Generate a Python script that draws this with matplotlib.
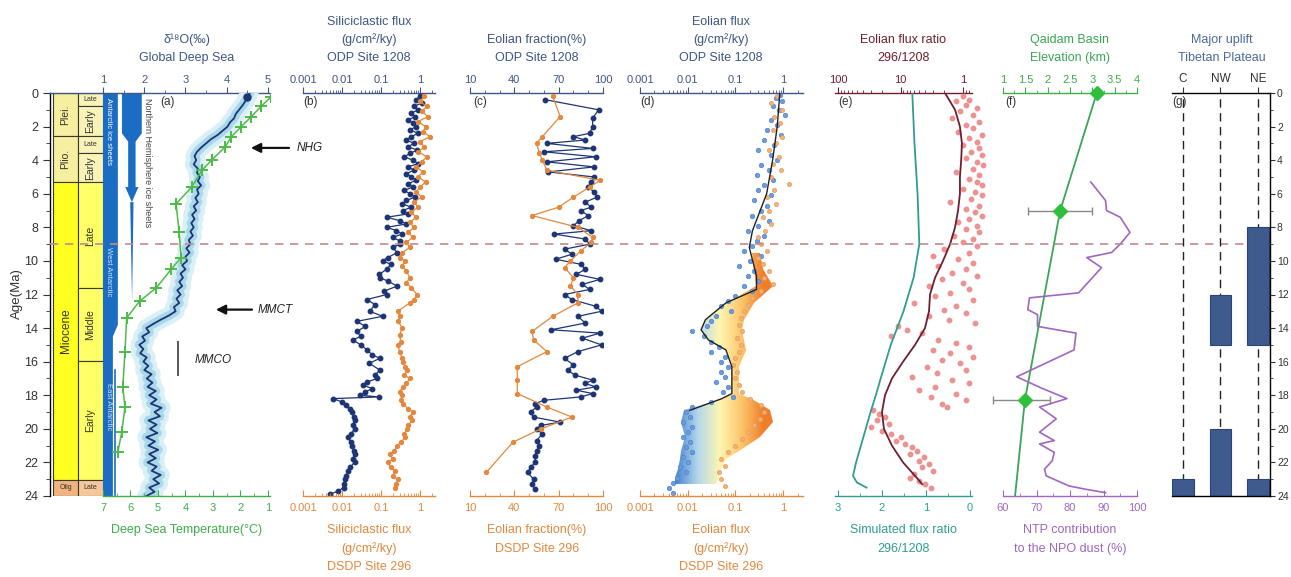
import numpy as np
import matplotlib
matplotlib.use("Agg")
import matplotlib.pyplot as plt
import matplotlib.transforms as mtransforms
from matplotlib.patches import Polygon, Rectangle
from matplotlib.lines import Line2D
from matplotlib.colors import LinearSegmentedColormap, Normalize
from matplotlib.ticker import MultipleLocator, NullFormatter, LogLocator

plt.rcParams['font.family'] = ['Liberation Sans', 'DejaVu Sans']
plt.rcParams['axes.linewidth'] = 1.0

# ---------------- colours ----------------
C_SLATE = '#3e5585'
C_GREEN = '#3fae49'
C_ORANGE = '#e3883d'
C_NAVY = '#1d3575'
C_MAROON = '#6e1f2f'
C_TEAL = '#2f9d91'
C_PURPLE = '#a066c0'
C_PINK = '#ec8a8a'
C_ICE = '#1a6dc2'

# ---------------- data ----------------
# geological time scale (Ma)
epoch_names = ['Plei.', 'Plio.', 'Miocene', 'Olig.']
epoch_top = [0, 2.58, 5.33, 23.03]
epoch_base = [2.58, 5.33, 23.03, 24]
epoch_cols = ['#f7efa0', '#f7efa0', '#ffff22', '#f2b47e']
sub_names = ['Late', 'Early', 'Late', 'Early', 'Late', 'Middle', 'Early', 'Late']
sub_top = [0, 0.78, 2.58, 3.6, 5.33, 11.63, 15.97, 23.03]
sub_base = [0.78, 2.58, 3.6, 5.33, 11.63, 15.97, 23.03, 24]
sub_cols = ['#faf3b8', '#faf3b8', '#faf3b8', '#faf3b8', '#ffff66', '#ffff66', '#ffff66', '#f6c79a']

# (a) global deep sea d18O (per mil), 0.25 Myr steps
d18o_age = np.arange(0, 24.01, 0.25)
d18o = [4.56, 4.50, 4.45, 4.38, 4.30, 4.22, 4.18, 4.08, 4.02, 3.90, 3.78, 3.62,
        3.50, 3.38, 3.28, 3.22, 3.26, 3.20, 3.30, 3.28, 3.35, 3.30, 3.38, 3.28,
        3.32, 3.24, 3.30, 3.20, 3.26, 3.16, 3.22, 3.14, 3.20, 3.12, 3.18, 3.08,
        3.12, 3.02, 3.10, 3.00, 3.04, 2.92, 3.00, 2.88, 2.94, 2.85, 2.92, 2.80,
        2.88, 2.78, 2.85, 2.72, 2.76, 2.60, 2.40, 2.22, 2.05, 2.12, 1.95, 2.02,
        1.88, 1.98, 1.90, 2.06, 1.98, 2.10, 2.00, 2.18, 2.06, 2.20, 2.08, 2.28,
        2.12, 2.30, 2.16, 2.42, 2.25, 2.38, 2.10, 2.30, 2.14, 2.32, 2.05, 2.26,
        2.10, 2.34, 2.12, 2.28, 2.08, 2.30, 2.18, 2.40, 2.22, 2.36, 2.12, 2.25,
        2.05]
# (a) deep sea temperature (degC)
temp_age = [0.25, 0.8, 1.4, 2.0, 2.6, 3.2, 4.0, 4.6, 5.6, 6.6, 8.3, 9.8, 10.5,
            11.6, 12.4, 13.4, 15.4, 17.5, 18.7, 20.2, 21.4]
temp_val = [0.9, 1.25, 1.6, 1.97, 2.33, 2.55, 3.05, 3.4, 3.77, 4.34, 4.23, 4.16,
            4.52, 5.06, 5.67, 6.14, 6.2, 6.28, 6.2, 6.32, 6.46]

# (b) siliciclastic flux (g/cm2/ky)
sil1208_age = [0.2, 0.4, 0.6, 0.8, 1.0, 1.2, 1.4, 1.6, 1.8, 2.0, 2.2, 2.4, 2.6, 2.8,
               3.0, 3.2, 3.4, 3.6, 3.8, 4.0, 4.2, 4.4, 4.6, 4.8, 5.0, 5.2, 5.4, 5.6,
               5.8, 6.0, 6.2, 6.4, 6.6, 6.8, 7.0, 7.2, 7.4, 7.6, 7.8, 8.0, 8.2, 8.4,
               8.6, 8.8, 9.0, 9.2, 9.5, 9.8, 10.0, 10.2, 10.5, 10.8, 11.0, 11.2,
               11.5, 11.8, 12.0, 12.3, 12.6, 13.0, 13.3, 13.6, 13.9, 14.2, 14.5,
               14.7, 15.0, 15.3, 15.6, 15.8, 16.1, 16.5, 16.8, 17.0, 17.2, 17.4,
               17.6, 17.8, 18.0, 18.1, 18.2, 18.4, 18.6, 18.8, 19.0, 19.3, 19.5,
               19.8, 20.0, 20.3, 20.5, 20.8, 21.0, 21.3, 21.5, 21.8, 22.0, 22.3,
               22.5, 22.8, 23.0, 23.3, 23.5, 23.7, 23.9]
sil1208 = [1.0, 0.8, 1.1, 0.7, 0.9, 0.6, 0.75, 0.5, 0.65, 0.8, 0.55, 0.9, 0.6, 0.45,
           0.7, 0.5, 0.85, 0.55, 0.4, 0.65, 0.9, 0.5, 0.7, 0.45, 0.6, 0.8, 0.5, 0.65,
           0.4, 0.55, 0.75, 0.45, 0.35, 0.6, 0.36, 0.5, 0.14, 0.3, 0.45, 0.14, 0.25,
           0.35, 0.2, 0.3, 0.31, 0.2, 0.26, 0.15, 0.11, 0.18, 0.14, 0.09, 0.094, 0.15,
           0.26, 0.12, 0.14, 0.044, 0.07, 0.052, 0.11, 0.024, 0.04, 0.024, 0.03,
           0.019, 0.03, 0.044, 0.06, 0.094, 0.05, 0.094, 0.07, 0.08, 0.045, 0.035,
           0.06, 0.04, 0.029, 0.09, 0.0059, 0.01, 0.013, 0.016, 0.018, 0.02, 0.021,
           0.019, 0.021, 0.017, 0.014, 0.017, 0.018, 0.02, 0.021, 0.019, 0.021,
           0.016, 0.014, 0.013, 0.012, 0.011, 0.011, 0.008, 0.0049]
sil296_age = [0.2, 0.5, 0.8, 1.1, 1.4, 1.7, 2.0, 2.3, 2.6, 2.9, 3.2, 3.5, 3.8, 4.1,
              4.4, 4.7, 5.0, 5.3, 5.6, 5.9, 6.2, 6.5, 6.8, 7.1, 7.4, 7.7, 8.0, 8.3,
              8.6, 8.9, 9.2, 9.5, 9.8, 10.0, 10.3, 10.6, 11.0, 11.3, 11.6, 12.0,
              12.3, 12.5, 13.0, 13.3, 13.6, 14.0, 14.4, 14.8, 15.0, 15.4, 15.8,
              16.0, 16.3, 16.5, 16.8, 17.0, 17.3, 17.5, 17.8, 18.0, 18.3, 18.5,
              18.8, 19.0, 19.3, 19.5, 19.8, 20.0, 20.3, 20.5, 20.8, 21.0, 21.3,
              21.5, 21.8, 22.0, 22.3, 22.5, 22.8, 23.0, 23.3, 23.5]
sil296 = [1.3, 1.0, 1.5, 1.1, 1.6, 0.9, 1.4, 1.2, 1.8, 1.0, 1.3, 0.9, 1.5, 1.1, 0.8,
          1.2, 0.9, 1.4, 1.0, 0.8, 1.1, 0.7, 0.9, 0.6, 0.8, 0.55, 0.7, 0.5, 0.65,
          0.45, 0.55, 0.35, 0.3, 0.41, 0.35, 0.45, 0.55, 0.45, 0.6, 0.84, 0.7, 0.55,
          0.27, 0.3, 0.28, 0.35, 0.3, 0.32, 0.27, 0.3, 0.35, 0.37, 0.42, 0.47, 0.4,
          0.55, 0.45, 0.37, 0.3, 0.35, 0.33, 0.37, 0.5, 0.66, 0.55, 0.62, 0.5, 0.47,
          0.4, 0.41, 0.33, 0.26, 0.22, 0.17, 0.2, 0.15, 0.18, 0.23, 0.2, 0.27, 0.25,
          0.23]

# (c) eolian fraction (%)
ef1208_age = [0.4, 1.0, 1.5, 2.0, 2.4, 2.6, 2.8, 3.0, 3.3, 3.5, 3.8, 4.1, 4.4, 4.7,
              5.0, 5.3, 5.6, 5.9, 6.2, 6.5, 6.8, 7.0, 7.3, 7.6, 7.9, 8.2, 8.4, 8.7,
              9.0, 9.3, 9.6, 9.9, 10.2, 10.5, 10.8, 11.1, 11.4, 11.7, 12.0, 12.3,
              12.7, 13.0, 13.3, 13.7, 14.1, 14.3, 14.6, 15.0, 15.4, 15.8, 16.2,
              16.5, 16.8, 17.1, 17.3, 17.5, 17.7, 17.9, 18.1, 18.3, 18.5, 18.7,
              19.0, 19.3, 19.6, 19.8, 20.0, 20.3, 20.7, 21.0, 21.3, 21.6, 22.0,
              22.3, 22.6, 23.0, 23.3, 23.6]
ef1208 = [61, 97, 93, 93, 91, 80, 88, 62, 93, 60, 95, 62, 94, 63, 94, 92, 90, 94,
          96, 88, 92, 85, 90, 84, 80, 92, 67, 88, 91, 74, 79, 68, 85, 88, 82, 98,
          86, 91, 74, 79, 95, 99, 83, 88, 65, 98, 86, 99, 83, 74, 80, 76, 81, 93,
          88, 95, 82, 93, 85, 60, 54, 55, 51, 53, 71, 58, 55, 59, 55, 57, 55, 54,
          54, 51, 49, 53, 52, 54]
ef296_age = [0.2, 1.4, 2.6, 3.0, 3.6, 4.0, 4.6, 5.2, 5.6, 6.2, 6.8, 7.3, 8.0, 8.6,
             8.9, 9.4, 10.0, 10.4, 11.0, 11.5, 12.0, 12.5, 13.3, 14.2, 14.7, 15.4,
             16.3, 17.1, 17.9, 18.7, 19.3, 20.0, 20.8, 22.6]
ef296 = [66, 71, 59, 55, 57, 59, 62, 98, 91, 80, 70, 52, 83, 93, 92, 85, 78, 74,
         80, 78, 83, 83, 66, 52, 53, 62, 42, 42, 42, 62, 79, 58, 39, 21]

# (d) eolian flux (g/cm2/ky)
eo1208_age = [0.1, 0.3, 0.5, 0.8, 1.0, 1.3, 1.6, 1.9, 2.2, 2.5, 2.8, 3.1, 3.4, 3.7,
              4.0, 4.3, 4.6, 4.9, 5.2, 5.5, 5.8, 6.1, 6.4, 6.7, 7.0, 7.3, 7.6, 7.9,
              8.2, 8.5, 8.8, 9.1, 9.4, 9.7, 10.0, 10.3, 10.6, 10.9, 11.2, 11.5,
              11.8, 12.1, 12.4, 12.7, 13.0, 13.3, 13.6, 13.9, 14.2, 14.5, 14.8,
              15.1, 15.4, 15.7, 16.0, 16.3, 16.6, 16.9, 17.2, 17.5, 17.8, 18.1,
              18.4, 18.7, 19.0, 19.3, 19.6, 19.9, 20.2, 20.5, 20.8, 21.1, 21.4,
              21.7, 22.0, 22.3, 22.6, 22.9, 23.2, 23.5, 23.8]
eo1208 = [0.85, 0.70, 0.95, 0.60, 0.80, 1.10, 0.55, 0.75, 0.45, 0.90, 0.40, 0.65,
          0.30, 0.55, 0.75, 0.35, 0.50, 0.28, 0.60, 0.40, 0.30, 0.55, 0.25, 0.45,
          0.35, 0.22, 0.50, 0.30, 0.18, 0.40, 0.28, 0.22, 0.15, 0.35, 0.20, 0.12,
          0.25, 0.18, 0.30, 0.15, 0.22, 0.10, 0.07, 0.05, 0.08, 0.04, 0.03, 0.025,
          0.012, 0.022, 0.03, 0.045, 0.03, 0.06, 0.05, 0.07, 0.05, 0.06, 0.04, 0.07,
          0.055, 0.09, 0.03, 0.012, 0.009, 0.011, 0.008, 0.012, 0.010, 0.008, 0.011,
          0.009, 0.012, 0.008, 0.010, 0.007, 0.009, 0.006, 0.005, 0.004, 0.005]
eo296_age = [0.2, 0.6, 1.0, 1.4, 1.8, 2.2, 2.6, 3.0, 3.4, 3.8, 4.2, 4.6, 5.0, 5.4,
             5.8, 6.2, 6.6, 7.0, 7.4, 7.8, 8.2, 8.6, 9.0, 9.4, 9.8, 10.2, 10.6,
             11.0, 11.4, 11.8, 12.2, 12.6, 13.0, 13.4, 13.8, 14.2, 14.6, 15.0,
             15.4, 15.8, 16.2, 16.6, 17.0, 17.4, 17.8, 18.2, 18.6, 19.0, 19.4,
             19.8, 20.2, 20.6, 21.0, 21.4, 21.8, 22.2, 22.6, 23.0, 23.4]
eo296 = [0.75, 0.55, 0.95, 0.65, 0.85, 0.60, 0.95, 0.70, 0.50, 0.80, 0.60, 0.90,
         0.55, 1.3, 0.65, 0.45, 0.70, 0.50, 0.38, 0.55, 0.42, 0.30, 0.35, 0.45, 0.30,
         0.38, 0.50, 0.40, 0.60, 0.35, 0.22, 0.18, 0.15, 0.13, 0.12, 0.14, 0.11,
         0.13, 0.12, 0.10, 0.09, 0.11, 0.10, 0.12, 0.14, 0.20, 0.35, 0.40, 0.32,
         0.25, 0.18, 0.14, 0.10, 0.07, 0.05, 0.06, 0.045, 0.05, 0.06]
# smoothed ODP 1208 eolian flux
eo_smooth_age = [0, 2, 4, 6, 8.2, 9.2, 10.9, 11.7, 12.5, 13.5, 14.1, 14.7, 15.3,
                 16.3, 17.9, 18.2, 18.9]
eo_smooth = [0.85, 0.75, 0.6, 0.45, 0.227, 0.195, 0.276, 0.276, 0.063, 0.0235,
             0.019, 0.027, 0.063, 0.084, 0.084, 0.052, 0.011]
# envelope between the two sites (gradient fill)
env_age = [9.5, 10.5, 11.5, 12.5, 13.5, 14.1, 14.7, 15.3, 16.3, 17.2, 17.9, 18.2,
           18.9, 19.6, 20.5, 21.3, 21.8, 22.4, 22.9, 23.3]
env_left = [0.22, 0.25, 0.27, 0.063, 0.0235, 0.019, 0.027, 0.063, 0.084, 0.084,
            0.084, 0.052, 0.0085, 0.0072, 0.0088, 0.0072, 0.0068, 0.0062, 0.0055,
            0.0055]
env_right = [0.33, 0.38, 0.60, 0.25, 0.153, 0.139, 0.153, 0.169, 0.12, 0.12, 0.12,
             0.227, 0.52, 0.61, 0.32, 0.12, 0.063, 0.049, 0.0445, 0.040]

# (e) eolian flux ratio 296/1208
ratio_age = [0.2, 0.4, 0.5, 0.7, 0.9, 1.1, 1.3, 1.5, 1.7, 1.9, 2.1, 2.3, 2.5, 2.7,
             2.9, 3.1, 3.3, 3.5, 3.7, 3.9, 4.1, 4.3, 4.5, 4.7, 4.9, 5.1, 5.3, 5.5,
             5.7, 5.9, 6.1, 6.3, 6.5, 6.7, 6.9, 7.1, 7.3, 7.5, 7.7, 7.9, 8.1, 8.3,
             8.5, 8.7, 8.9, 9.1, 9.3, 9.5, 9.7, 9.9, 10.1, 10.3, 10.5, 10.7, 10.9,
             11.1, 11.3, 11.5, 11.7, 11.9, 12.1, 12.3, 12.5, 12.7, 12.9, 13.1,
             13.3, 13.5, 13.7, 13.9, 14.1, 14.3, 14.5, 14.7, 14.9, 15.1, 15.3,
             15.5, 15.7, 15.9, 16.1, 16.3, 16.5, 16.7, 16.9, 17.1, 17.3, 17.5,
             17.7, 17.9, 18.1, 18.3, 18.5, 18.7, 18.9, 19.1, 19.3, 19.5, 19.7,
             19.9, 20.1, 20.3, 20.5, 20.7, 20.9, 21.1, 21.3, 21.5, 21.7, 21.9,
             22.1, 22.3, 22.5, 22.7, 22.9, 23.1, 23.3, 23.5]
ratio = [1.0, 0.8, 1.3, 0.9, 0.6, 1.1, 0.7, 1.5, 0.55, 0.9, 0.7, 1.2, 0.5, 0.8, 0.6,
         1.0, 0.55, 0.75, 0.5, 0.9, 0.6, 0.48, 0.7, 1.3, 0.55, 0.8, 0.6, 0.5, 1.0,
         0.65, 0.5, 0.75, 1.6, 0.55, 0.9, 0.65, 0.5, 0.8, 1.2, 0.6, 0.9, 0.55, 1.4,
         0.7, 1.0, 0.6, 2.0, 0.8, 3.0, 1.2, 0.7, 2.5, 0.9, 1.5, 0.6, 2.2, 1.0, 3.5,
         0.8, 1.6, 2.8, 0.7, 6.0, 1.3, 2.0, 0.9, 3.5, 1.7, 0.65, 11.0, 8.0, 4.5,
         14.0, 2.5, 1.3, 0.8, 3.0, 1.6, 0.7, 2.2, 1.1, 3.8, 0.9, 2.6, 6.5, 1.5, 0.8,
         2.8, 5.0, 1.3, 3.2, 0.9, 2.2, 1.8, 28, 22, 18, 24, 15, 30, 20, 14, 10, 12,
         8.5, 6.5, 5.5, 7.0, 4.2, 5.0, 3.5, 4.5, 3.0, 6.0, 7.0, 5.0, 4.0, 3.2]
ratio_smooth_age = [0, 1, 2, 3, 4, 5, 6, 7, 8, 9, 10, 11, 12, 13, 14, 15, 16, 17, 18,
                    19, 20, 21, 22, 23, 23.3]
ratio_smooth = [1.94, 1.34, 1.12, 1.04, 1.07, 1.12, 1.12, 1.2, 1.34, 1.61, 2.09, 2.8,
                3.37, 3.5, 4.06, 5.86, 9.1, 13.7, 17.7, 19.8, 18.4, 13.7, 9.1, 5.25,
                4.5]
sim_age = [0, 3, 6, 9, 11, 13, 15, 17, 18, 19, 20, 21, 22, 22.8, 23.2, 23.5]
sim_ratio = [1.31, 1.26, 1.19, 1.15, 1.28, 1.51, 1.80, 2.03, 2.14, 2.26, 2.37, 2.48,
             2.59, 2.66, 2.57, 2.35]

# (f) Qaidam Basin elevation (km) and NTP contribution (%)
qb_age = [0, 7.0, 18.3, 24]
qb_elev = [3.1, 2.28, 1.49, 1.27]
qb_pt_age = [0, 7.0, 18.3]
qb_pt_elev = [3.1, 2.28, 1.49]
qb_err_lo = [0, 0.72, 0.71]
qb_err_hi = [0, 0.71, 0.56]
ntp_age = [5.3, 6.4, 7.0, 7.4, 8.3, 9.0, 9.5, 9.8, 10.4, 11.7, 11.9, 12.2, 12.9,
           13.2, 13.9, 14.3, 15.3, 16.9, 17.6, 18.2, 18.7, 19.4, 20.2, 20.7, 20.9,
           21.4, 21.9, 22.4, 22.8, 23.4, 23.6, 23.8]
ntp = [86.2, 90.6, 90.9, 95.0, 97.9, 95.0, 92.4, 85.0, 89.4, 83.5, 82.6, 67.9, 67.4,
       70.3, 70.3, 81.8, 81.2, 64.1, 71.8, 79.1, 70.9, 75.9, 70.9, 75.3, 70.9, 75.3,
       74.7, 72.4, 72.9, 79.7, 84.7, 90.6]

# (g) major uplift of the Tibetan Plateau
regions = ['C', 'NW', 'NE']
uplift_region = [0, 1, 1, 2, 2]
uplift_top = [23, 20, 12, 23, 8]
uplift_base = [24, 24, 15, 24, 15]

# ---------------- figure ----------------
W, H = 1291, 577
fig = plt.figure(figsize=(W / 100, H / 100), dpi=100)
Y_TOP, Y_BOT = 93, 496


def box(x0, x1):
    return [x0 / W, 1 - Y_BOT / H, (x1 - x0) / W, (Y_BOT - Y_TOP) / H]


def ftext(x, y, s, color, size=9, **kw):
    kw.setdefault('ha', 'center')
    kw.setdefault('va', 'center')
    fig.text(x / W, 1 - y / H, s, color=color, fontsize=size, **kw)


def panel(x0, x1, ctop, cbot):
    at = fig.add_axes(box(x0, x1))
    ab = fig.add_axes(box(x0, x1))
    for a in (at, ab):
        a.patch.set_visible(False)
        a.set_ylim(24, 0)
        a.spines['left'].set_visible(False)
        a.spines['right'].set_visible(False)
        a.set_yticks([])
    at.spines['bottom'].set_visible(False)
    ab.spines['top'].set_visible(False)
    at.xaxis.set_ticks_position('top')
    ab.xaxis.set_ticks_position('bottom')
    at.spines['top'].set_color(ctop)
    ab.spines['bottom'].set_color(cbot)
    at.tick_params(axis='x', which='both', colors=ctop, direction='out',
                   labelsize=8, pad=2)
    at.tick_params(axis='x', which='major', length=4)
    at.tick_params(axis='x', which='minor', length=2.5)
    ab.tick_params(axis='x', which='both', colors=cbot, direction='in',
                   labelsize=8, pad=5)
    ab.tick_params(axis='x', which='major', length=4)
    ab.tick_params(axis='x', which='minor', length=2.5)
    return at, ab


def logticks(a, ticks, labels):
    a.set_xscale('log')
    a.set_xticks(ticks, labels=labels)
    a.xaxis.set_minor_locator(LogLocator(base=10, subs=np.arange(2, 10)))
    a.xaxis.set_minor_formatter(NullFormatter())


# ---- stratigraphic column + age axis ----
ax_s = fig.add_axes(box(50, 103))
ax_s.set_xlim(0, 53)
ax_s.set_ylim(24, 0)
ax_s.patch.set_visible(False)
ax_s.spines['right'].set_visible(False)
ax_s.spines['bottom'].set_visible(False)
ax_s.spines['top'].set_color(C_SLATE)
ax_s.set_xticks([])
ax_s.yaxis.set_major_locator(MultipleLocator(2))
ax_s.yaxis.set_minor_locator(MultipleLocator(1))
ax_s.tick_params(axis='y', which='major', length=5, labelsize=9, colors='#333')
ax_s.tick_params(axis='y', which='minor', length=3, colors='#333')
for name, t, b, c in zip(epoch_names, epoch_top, epoch_base, epoch_cols):
    ax_s.add_patch(Rectangle((3, t), 25, b - t, fc=c, ec='#3a3a2a', lw=0.8))
    if b - t > 1.5:
        ax_s.text(15.5, (t + b) / 2, name, rotation=90, ha='center', va='center',
                  fontsize=8.5 if name == 'Miocene' else 7.5, color='#333')
    else:
        ax_s.text(15.5, (t + b) / 2, name[:-1], ha='center', va='center',
                  fontsize=5, color='#333')
for name, t, b, c in zip(sub_names, sub_top, sub_base, sub_cols):
    ax_s.add_patch(Rectangle((28, t), 25, b - t, fc=c, ec='#3a3a2a', lw=0.8))
    if b - t > 1.5:
        ax_s.text(40.5, (t + b) / 2, name, rotation=90, ha='center', va='center',
                  fontsize=7.5, color='#333')
    else:
        ax_s.text(40.5, (t + b) / 2, name, ha='center', va='center',
                  fontsize=5, color='#333')
ftext(17, 294, 'Age(Ma)', '#333', size=9.5, rotation=90)

# ---- (a) d18O / temperature ----
at_a, ab_a = panel(103, 270, C_SLATE, C_GREEN)
at_a.set_xlim(1.0, 5.05)
at_a.set_xticks([1, 2, 3, 4, 5])
at_a.xaxis.set_minor_locator(MultipleLocator(0.5))
ab_a.set_xlim(7, 0.925)
ab_a.set_xticks([7, 6, 5, 4, 3, 2, 1])
ab_a.xaxis.set_minor_locator(MultipleLocator(0.5))

# ice sheet bars
at_a.add_patch(Polygon(list(zip([1.0, 1.36, 1.36, 1.24, 1.24, 1.0],
                                [0, 0, 13.8, 14.5, 24, 24])), closed=True,
                       fc=C_ICE, ec='none', zorder=2))
at_a.plot([1.30, 1.30], [16.5, 24], color=C_ICE, lw=1.2, zorder=2)
at_a.add_patch(Polygon(list(zip([1.46, 1.94, 1.94, 1.79, 1.79, 1.86, 1.70, 1.54, 1.61, 1.61, 1.46],
                                [0, 0, 2.4, 2.9, 5.6, 5.6, 6.5, 5.6, 5.6, 2.9, 2.4])),
                       closed=True, fc=C_ICE, ec='none', zorder=2))
at_a.add_patch(Polygon([(1.66, 6.5), (1.74, 6.5), (1.705, 12.4)], closed=True,
                       fc=C_ICE, ec='none', zorder=2))
at_a.text(1.13, 0.3, 'Antarctic ice sheets', rotation=-90, ha='center', va='top',
          fontsize=5.5, color='white', zorder=3)
at_a.text(1.13, 9.2, 'West Antarctic', rotation=-90, ha='center', va='top',
          fontsize=5.5, color='#cfe3f7', zorder=3)
at_a.text(1.13, 17.3, 'East Antarctic', rotation=-90, ha='center', va='top',
          fontsize=5.5, color='#cfe3f7', zorder=3)
at_a.text(2.08, 0.3, 'Northern Hemisphere ice sheets', rotation=-90, ha='center',
          va='top', fontsize=6.5, color='#444', zorder=3)

# d18O band + curve
at_a.plot(d18o, d18o_age, color='#dbeff6', lw=13, solid_capstyle='round', zorder=3)
at_a.plot(d18o, d18o_age, color='#a9d8ea', lw=6.5, solid_capstyle='round', zorder=3)
at_a.plot(d18o, d18o_age, color=C_NAVY, lw=1.3, zorder=4)
at_a.plot([d18o[1]], [d18o_age[1]], 'o', color=C_NAVY, ms=5, zorder=4)
# temperature
ab_a.plot(temp_val, temp_age, '-+', color='#4cbb48', lw=1.1, ms=8, mew=1.4, zorder=5)

# annotations
at_a.annotate('', xy=(4.52, 3.27), xytext=(5.58, 3.27), annotation_clip=False,
              arrowprops=dict(arrowstyle='-|>', color='#111', lw=1.6,
                              mutation_scale=14))
at_a.text(5.70, 3.27, 'NHG', fontsize=8.5, style='italic', va='center', ha='left',
          color='#222', clip_on=False)
at_a.annotate('', xy=(3.67, 12.9), xytext=(4.68, 12.9), annotation_clip=False,
              arrowprops=dict(arrowstyle='-|>', color='#111', lw=1.6,
                              mutation_scale=14))
at_a.text(4.76, 12.9, 'MMCT', fontsize=8.5, style='italic', va='center', ha='left',
          color='#222', clip_on=False)
at_a.plot([2.82, 2.82], [14.8, 16.8], color='#555', lw=1.4)
at_a.text(3.23, 15.9, 'MMCO', fontsize=8.5, style='italic', va='center', ha='left',
          color='#222')

# ---- (b) siliciclastic flux ----
at_b, ab_b = panel(303, 435, C_SLATE, C_ORANGE)
for a in (at_b, ab_b):
    logticks(a, [0.001, 0.01, 0.1, 1], ['0.001', '0.01', '0.1', '1'])
    a.set_xlim(0.001, 2.43)
at_b.plot(sil1208, sil1208_age, '-o', color=C_NAVY, lw=0.9, ms=3.2, zorder=3)
at_b.plot(sil296, sil296_age, '-o', color=C_ORANGE, lw=0.9, ms=2.8, zorder=4)

# ---- (c) eolian fraction ----
at_c, ab_c = panel(470, 603, C_SLATE, C_ORANGE)
for a in (at_c, ab_c):
    a.set_xlim(10, 100)
    a.set_xticks([10, 40, 70, 100])
    a.xaxis.set_minor_locator(MultipleLocator(10))
at_c.plot(ef1208, ef1208_age, '-o', color=C_NAVY, lw=0.9, ms=3.2, zorder=3)
at_c.plot(ef296, ef296_age, '-o', color=C_ORANGE, lw=0.9, ms=2.8, zorder=4)

# ---- (d) eolian flux ----
at_d, ab_d = panel(640, 803, C_SLATE, C_ORANGE)
for a in (at_d, ab_d):
    logticks(a, [0.001, 0.01, 0.1, 1], ['0.001', '0.01', '0.1', '1'])
    a.set_xlim(0.001, 2.6)
grad = LinearSegmentedColormap.from_list(
    'dust', ['#4a86cc', '#b3d6ec', '#fdf6b0', '#fbc46a', '#ef7d2a'])
gx = np.logspace(-3, 0.4, 241)
gc = np.log10(0.5 * (gx[1:] + gx[:-1]))[None, :]
mesh = at_d.pcolormesh(gx, [8, 24], gc, cmap=grad,
                       norm=Normalize(vmin=-2.25, vmax=-0.4), zorder=1,
                       shading='flat')
env_poly = Polygon(list(zip(env_left, env_age)) + list(zip(env_right[::-1], env_age[::-1])),
                   closed=True, transform=at_d.transData)
mesh.set_clip_path(env_poly)
at_d.plot(eo1208, eo1208_age, 'o', color='#6b9be0', ms=3.2, mec='#4f83cf', mew=0.5,
          zorder=3)
at_d.plot(eo296, eo296_age, 'o', color='#f2b27a', ms=3.0, mec='#e79a55', mew=0.5,
          zorder=3)
at_d.plot(eo_smooth, eo_smooth_age, color='#222', lw=1.0, zorder=4)

# ---- (e) flux ratio ----
at_e, ab_e = panel(835, 972, C_MAROON, C_TEAL)
logticks(at_e, [100, 10, 1], ['100', '10', '1'])
at_e.set_xlim(111.7, 0.718)
ab_e.set_xlim(3.07, -0.05)
ab_e.set_xticks([3, 2, 1, 0])
ab_e.xaxis.set_minor_locator(MultipleLocator(0.5))
at_e.plot(ratio, ratio_age, 'o', color=C_PINK, ms=3.2, alpha=0.9, clip_on=False,
          zorder=3)
at_e.plot(ratio_smooth, ratio_smooth_age, color=C_MAROON, lw=1.3, zorder=4)
ab_e.plot(sim_ratio, sim_age, color=C_TEAL, lw=1.3, zorder=4)

# ---- (f) Qaidam Basin / NTP contribution ----
at_f, ab_f = panel(1003, 1137, C_GREEN, C_PURPLE)
at_f.set_xlim(1, 4)
at_f.set_xticks([1, 1.5, 2, 2.5, 3, 3.5, 4], labels=['1', '1.5', '2', '2.5', '3', '3.5', '4'])
at_f.xaxis.set_minor_locator(MultipleLocator(0.25))
ab_f.set_xlim(60, 100)
ab_f.set_xticks([60, 70, 80, 90, 100])
ab_f.xaxis.set_minor_locator(MultipleLocator(5))
ab_f.plot(ntp, ntp_age, color=C_PURPLE, lw=1.2, zorder=3)
at_f.plot(qb_elev, qb_age, color='#3aa655', lw=1.3, zorder=4)
at_f.errorbar(qb_pt_elev, qb_pt_age, xerr=[qb_err_lo, qb_err_hi], fmt='D',
              color='#2fbf3a', ecolor='#888', elinewidth=1.0, capsize=3, ms=7,
              zorder=5, clip_on=False)

# ---- (g) Tibetan Plateau uplift ----
ax_g = fig.add_axes(box(1172, 1270))
ax_g.patch.set_visible(False)
ax_g.set_zorder(1)
ax_g.set_ylim(24, 0)
ax_g.set_xlim(-0.29, 2.32)
ax_g.spines['left'].set_visible(False)
ax_g.xaxis.set_ticks_position('top')
ax_g.set_xticks(range(len(regions)), labels=regions)
ax_g.tick_params(axis='x', length=4, labelsize=8.5, colors='#333', pad=2)
ax_g.yaxis.tick_right()
ax_g.yaxis.set_major_locator(MultipleLocator(2))
ax_g.yaxis.set_minor_locator(MultipleLocator(1))
ax_g.tick_params(axis='y', which='major', length=3.5, labelsize=7.5, colors='#333',
                 pad=1.5)
ax_g.tick_params(axis='y', which='minor', length=2, colors='#333')
for i in range(len(regions)):
    ax_g.axvline(i, color='#222', lw=1.0, ls=(0, (6, 4)), zorder=1)
ax_g.bar(uplift_region, np.subtract(uplift_base, uplift_top), bottom=uplift_top,
         width=0.58, color='#3f5a8e', edgecolor='#2d4472', lw=0.8, zorder=2)

# ---- 9 Ma dashed line ----
trans = mtransforms.blended_transform_factory(fig.transFigure, at_a.transData)
fig.add_artist(Line2D([50 / W, 1270 / W], [9, 9], transform=trans, color='#c48a8a',
                      lw=1.2, ls=(0, (5, 4)), zorder=0.5))

# ---- panel letters ----
for x, s in [(160, '(a)'), (303, '(b)'), (473, '(c)'), (640, '(d)'),
             (838, '(e)'), (1005, '(f)'), (1172, '(g)')]:
    ftext(x, 102, s, '#333', size=8.5, ha='left')

# ---- axis titles ----
ftext(187, 40, 'δ¹⁸O(‰)', C_SLATE)
ftext(187, 58, 'Global Deep Sea', C_SLATE)
ftext(187, 530, 'Deep Sea Temperature(°C)', C_GREEN)
for cx in (369, 721):
    ftext(cx, 22, 'Siliciclastic flux' if cx == 369 else 'Eolian flux', C_SLATE)
    ftext(cx, 40, '(g/cm²/ky)', C_SLATE)
    ftext(cx, 58, 'ODP Site 1208', C_SLATE)
    ftext(cx, 530, 'Siliciclastic flux' if cx == 369 else 'Eolian flux', C_ORANGE)
    ftext(cx, 549, '(g/cm²/ky)', C_ORANGE)
    ftext(cx, 567, 'DSDP Site 296', C_ORANGE)
ftext(537, 40, 'Eolian fraction(%)', C_SLATE)
ftext(537, 58, 'ODP Site 1208', C_SLATE)
ftext(537, 530, 'Eolian fraction(%)', C_ORANGE)
ftext(537, 549, 'DSDP Site 296', C_ORANGE)
ftext(903, 40, 'Eolian flux ratio', C_MAROON)
ftext(903, 58, '296/1208', C_MAROON)
ftext(903, 530, 'Simulated flux ratio', C_TEAL)
ftext(903, 549, '296/1208', C_TEAL)
ftext(1070, 40, 'Qaidam Basin', '#3aa655')
ftext(1070, 58, 'Elevation (km)', '#3aa655')
ftext(1070, 530, 'NTP contribution', C_PURPLE)
ftext(1070, 549, 'to the NPO dust (%)', C_PURPLE)
ftext(1222, 40, 'Major uplift', '#4a6a9a')
ftext(1222, 58, 'Tibetan Plateau', '#4a6a9a')

fig.savefig('out.png', dpi=100)
